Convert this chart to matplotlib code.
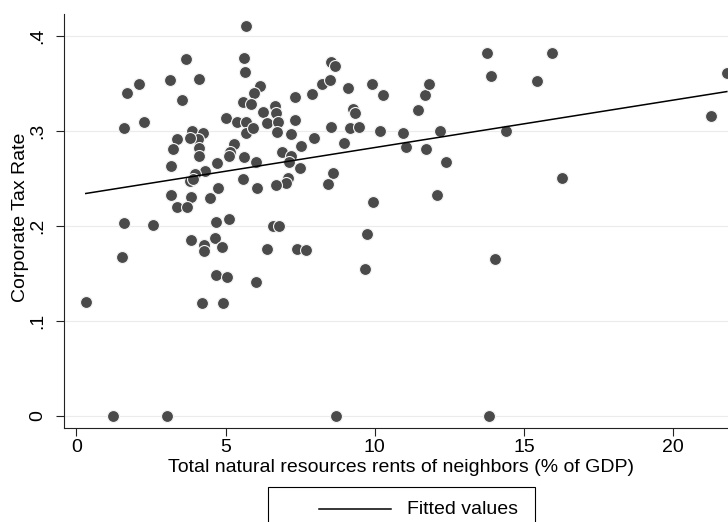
import numpy as np
import matplotlib.pyplot as plt
from matplotlib.lines import Line2D
from matplotlib.patches import Rectangle

plt.rcParams['font.family'] = ['Liberation Sans', 'DejaVu Sans']

# natural resource rents of neighbouring countries (% of GDP) and corporate tax rate
rents = [
    5.68, 3.69, 5.62, 5.66, 3.15, 4.10, 2.10, 1.69, 3.55, 6.15,
    5.97, 5.59, 5.87, 6.27, 2.28, 1.60, 5.00, 5.39, 5.68, 5.69,
    5.92, 6.40, 3.38, 3.87, 4.23, 4.09, 3.81, 3.24, 4.12, 4.12,
    5.30, 5.15, 5.12, 5.61, 4.72, 6.02, 3.16, 4.32, 3.99, 3.82,
    3.91, 5.58, 6.07, 4.75, 3.16, 3.86, 4.49, 3.38, 3.72, 1.61,
    2.58, 4.69, 5.12, 3.86, 4.28, 4.28, 4.65, 4.89, 1.54, 4.68,
    5.06, 6.03, 4.22, 4.92, 0.32, 1.22, 3.03, 8.69, 13.82, 8.54,
    8.67, 8.22, 8.50, 7.89, 7.33, 9.09, 9.89, 10.27, 11.46, 11.68,
    11.80, 13.76, 13.90, 6.65, 6.70, 6.77, 7.32, 6.71, 7.21, 8.53,
    9.27, 9.35, 9.18, 9.47, 10.17, 10.94, 12.19, 11.05, 11.70, 12.38,
    7.96, 8.97, 7.53, 6.90, 7.19, 7.12, 7.09, 7.01, 6.69, 7.50,
    8.60, 8.42, 9.95, 12.10, 6.59, 6.78, 9.74, 6.40, 7.41, 7.69,
    9.67, 14.02, 15.92, 15.43, 14.41, 16.26, 21.27, 21.79,
]
tax_rate = [
    0.411, 0.376, 0.377, 0.362, 0.354, 0.355, 0.349, 0.340, 0.333, 0.347,
    0.340, 0.331, 0.328, 0.320, 0.310, 0.303, 0.314, 0.310, 0.310, 0.298,
    0.303, 0.308, 0.292, 0.300, 0.298, 0.292, 0.293, 0.281, 0.282, 0.274,
    0.286, 0.278, 0.274, 0.273, 0.266, 0.267, 0.263, 0.258, 0.255, 0.247,
    0.249, 0.249, 0.240, 0.240, 0.233, 0.231, 0.229, 0.220, 0.220, 0.203,
    0.201, 0.204, 0.207, 0.185, 0.180, 0.174, 0.187, 0.178, 0.167, 0.148,
    0.146, 0.141, 0.119, 0.119, 0.120, 0.0, 0.0, 0.0, 0.0, 0.373,
    0.368, 0.349, 0.354, 0.339, 0.336, 0.345, 0.350, 0.338, 0.322, 0.338,
    0.350, 0.382, 0.358, 0.326, 0.319, 0.310, 0.312, 0.299, 0.297, 0.304,
    0.323, 0.319, 0.303, 0.304, 0.300, 0.298, 0.300, 0.283, 0.281, 0.267,
    0.293, 0.287, 0.284, 0.278, 0.274, 0.267, 0.250, 0.245, 0.243, 0.261,
    0.256, 0.244, 0.225, 0.233, 0.200, 0.200, 0.192, 0.176, 0.176, 0.175,
    0.155, 0.165, 0.382, 0.353, 0.300, 0.250, 0.316, 0.361,
]

x_ticks = [0, 5, 10, 15, 20]
y_ticks = [0, 0.1, 0.2, 0.3, 0.4]
y_tick_labels = ['0', '.1', '.2', '.3', '.4']

x = np.array(rents)
y = np.array(tax_rate)

# linear fit over the observed range
slope, intercept = np.polyfit(x, y, 1)
fit_x = np.array([x.min(), x.max()])
fit_y = intercept + slope * fit_x

fig = plt.figure(figsize=(7.28, 5.22), dpi=100)
ax = fig.add_axes([0.0883, 0.1795, 0.9117, 0.7937])

ax.scatter(x, y, s=74, c='#4a4a4a', edgecolors='#f4f4f4', linewidths=0.8, zorder=2)
ax.plot(fit_x, fit_y, color='black', lw=1.1, zorder=3)

ax.set_xlim(-0.40, 21.83)
ax.set_ylim(-0.013, 0.4232)

ax.set_xticks(x_ticks)
ax.set_yticks(y_ticks)
ax.set_yticklabels(y_tick_labels)
for lab in ax.get_yticklabels():
    lab.set_rotation(90)
    lab.set_va('center')

ax.grid(axis='y', color='#ebebeb', lw=0.8, zorder=0)
ax.grid(axis='x', visible=False)
ax.set_axisbelow(True)

for side in ['top', 'right']:
    ax.spines[side].set_visible(False)
for side in ['left', 'bottom']:
    ax.spines[side].set_color('#222222')
    ax.spines[side].set_linewidth(0.8)

ax.tick_params(axis='both', direction='out', length=5.8, width=0.8,
               color='#222222', labelsize=14)
ax.tick_params(axis='y', pad=7)
ax.tick_params(axis='x', pad=2)

ax.set_xlabel('Total natural resources rents of neighbors (% of GDP)', fontsize=14, va='center')
ax.xaxis.set_label_coords(0.507, -0.094)
ax.set_ylabel('Corporate Tax Rate', fontsize=14, va='center')
ax.yaxis.set_label_coords(-0.066, 0.51)

# legend box below the plot
fig.add_artist(Rectangle((268 / 728, -0.05), 267 / 728, 0.05 + 35 / 522,
                         transform=fig.transFigure, facecolor='white',
                         edgecolor='black', lw=0.8))
fig.add_artist(Line2D([319 / 728, 391 / 728], [1 - 509 / 522, 1 - 509 / 522],
                      transform=fig.transFigure, color='black', lw=1.1))
fig.text(407 / 728, 1 - 509 / 522, 'Fitted values', fontsize=14, va='center', ha='left')

fig.savefig('out.png', dpi=100)
